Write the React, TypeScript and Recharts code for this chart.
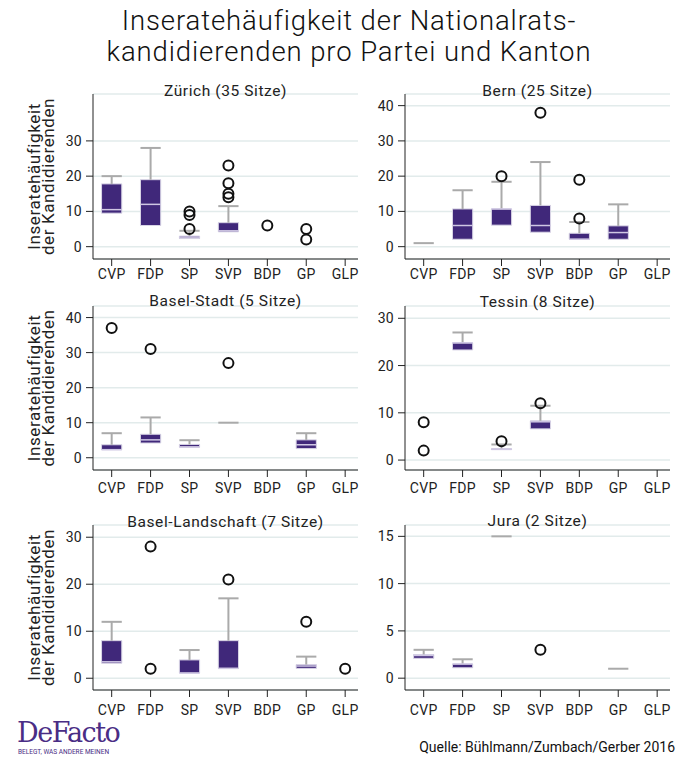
import React from 'react';
import {
  ComposedChart,
  XAxis,
  YAxis,
  CartesianGrid,
  ReferenceArea,
  ReferenceLine,
  Scatter,
} from 'recharts';

const parties = ['CVP', 'FDP', 'SP', 'SVP', 'BDP', 'GP', 'GLP'];

type Box = { party: string; min: number; q1: number; med: number; q3: number; max: number };
type Out = { party: string; v: number };

// Zürich
const zurichBoxes: Box[] = [
  { party: 'CVP', min: 9.5, q1: 9.5, med: 10.5, q3: 17.8, max: 20 },
  { party: 'FDP', min: 6, q1: 6, med: 12, q3: 19, max: 28 },
  { party: 'SP', min: 2.3, q1: 2.3, med: 2.7, q3: 3, max: 4.5 },
  { party: 'SVP', min: 4.2, q1: 4.2, med: 4.5, q3: 6.8, max: 11.5 },
];
const zurichOutliers: Out[] = [
  { party: 'SP', v: 10 }, { party: 'SP', v: 9 }, { party: 'SP', v: 5 },
  { party: 'SVP', v: 23 }, { party: 'SVP', v: 18 }, { party: 'SVP', v: 15 }, { party: 'SVP', v: 14 },
  { party: 'BDP', v: 6 },
  { party: 'GP', v: 5 }, { party: 'GP', v: 2 },
];

// Bern
const bernBoxes: Box[] = [
  { party: 'CVP', min: 1, q1: 1, med: 1, q3: 1, max: 1 },
  { party: 'FDP', min: 2.1, q1: 2.1, med: 6, q3: 10.7, max: 16 },
  { party: 'SP', min: 6.1, q1: 6.1, med: 10.7, q3: 10.7, max: 18.4 },
  { party: 'SVP', min: 4.1, q1: 4.1, med: 6, q3: 11.7, max: 24 },
  { party: 'BDP', min: 2.1, q1: 2.1, med: 2.1, q3: 3.8, max: 7 },
  { party: 'GP', min: 2.1, q1: 2.1, med: 4, q3: 5.9, max: 12 },
];
const bernOutliers: Out[] = [
  { party: 'SP', v: 20 },
  { party: 'SVP', v: 38 },
  { party: 'BDP', v: 19 }, { party: 'BDP', v: 8 },
];

// Basel-Stadt
const baselStadtBoxes: Box[] = [
  { party: 'CVP', min: 2.3, q1: 2.3, med: 2.3, q3: 3.7, max: 7 },
  { party: 'FDP', min: 4.2, q1: 4.2, med: 5.1, q3: 6.7, max: 11.5 },
  { party: 'SP', min: 3, q1: 3, med: 3.1, q3: 3.8, max: 5 },
  { party: 'SVP', min: 10, q1: 10, med: 10, q3: 10, max: 10 },
  { party: 'GP', min: 2.6, q1: 2.6, med: 3.7, q3: 5.1, max: 7 },
];
const baselStadtOutliers: Out[] = [
  { party: 'CVP', v: 37 },
  { party: 'FDP', v: 31 },
  { party: 'SVP', v: 27 },
];

// Tessin
const tessinBoxes: Box[] = [
  { party: 'FDP', min: 23.3, q1: 23.3, med: 24.8, q3: 24.8, max: 27 },
  { party: 'SP', min: 2.2, q1: 2.2, med: 2.3, q3: 2.4, max: 3.3 },
  { party: 'SVP', min: 6.6, q1: 6.6, med: 8.1, q3: 8.3, max: 11.5 },
];
const tessinOutliers: Out[] = [
  { party: 'CVP', v: 8 }, { party: 'CVP', v: 2 },
  { party: 'SP', v: 4 },
  { party: 'SVP', v: 12 },
];

// Basel-Landschaft
const baselLandBoxes: Box[] = [
  { party: 'CVP', min: 3.2, q1: 3.2, med: 3.5, q3: 8, max: 12 },
  { party: 'SP', min: 1.1, q1: 1.1, med: 1.1, q3: 3.9, max: 6 },
  { party: 'SVP', min: 2.1, q1: 2.1, med: 2.1, q3: 8, max: 17 },
  { party: 'GP', min: 2.1, q1: 2.1, med: 2.6, q3: 2.9, max: 4.6 },
];
const baselLandOutliers: Out[] = [
  { party: 'FDP', v: 28 }, { party: 'FDP', v: 2 },
  { party: 'SVP', v: 21 },
  { party: 'GP', v: 12 },
  { party: 'GLP', v: 2 },
];

// Jura
const juraBoxes: Box[] = [
  { party: 'CVP', min: 2.1, q1: 2.1, med: 2.4, q3: 2.5, max: 3 },
  { party: 'FDP', min: 1.1, q1: 1.1, med: 1.5, q3: 1.5, max: 2 },
  { party: 'SP', min: 15, q1: 15, med: 15, q3: 15, max: 15 },
  { party: 'GP', min: 1, q1: 1, med: 1, q3: 1, max: 1 },
];
const juraOutliers: Out[] = [{ party: 'SVP', v: 3 }];

const ticks40 = [0, 10, 20, 30, 40];
const ticks30 = [0, 10, 20, 30];
const ticks15 = [0, 5, 10, 15];

const FONT = 'Roboto, "Liberation Sans", sans-serif';
const PURPLE = '#40287a';
const WHISKER = '#aaaaaa';
const HALF = 0.26;

type PanelProps = {
  title: string;
  boxes: Box[];
  outliers: Out[];
  domain: [number, number];
  ticks: number[];
  left: number;
  top: number;
  width: number;
  height: number;
  margin: { top: number; right: number; bottom: number; left: number };
  xTickMargin: number;
  titleY: number;
  yLabel?: boolean;
};

const OutlierShape = (p: any) => (
  <circle cx={p.cx} cy={p.cy} r={5} fill="none" stroke="#111" strokeWidth={2} />
);

function Panel(props: PanelProps) {
  const { title, boxes, outliers, domain, ticks, left, top, width, height, margin, xTickMargin, titleY, yLabel } = props;
  const yAxisW = 40;
  const plotLeft = margin.left + yAxisW;
  const plotW = width - margin.right - plotLeft;
  const plotH = height - margin.top - margin.bottom - 30;
  const scatterData = outliers.map((o) => ({ x: parties.indexOf(o.party), y: o.v }));
  return (
    <div style={{ position: 'absolute', left, top, width, height }}>
      <ComposedChart width={width} height={height} margin={margin}>
        <CartesianGrid vertical={false} stroke="#e2ebeb" strokeWidth={1.5} />
        <XAxis
          type="number"
          dataKey="x"
          domain={[-0.48, 6.33]}
          ticks={[0, 1, 2, 3, 4, 5, 6]}
          interval={0}
          allowDataOverflow
          tickFormatter={(i: number) => parties[i]}
          tickSize={7}
          tickMargin={xTickMargin}
          height={30}
          stroke="#222"
          tick={{ fill: '#222', fontSize: 14, fontFamily: FONT, letterSpacing: 0.3 }}
        />
        <YAxis
          type="number"
          domain={domain}
          ticks={ticks}
          interval={0}
          allowDataOverflow
          width={yAxisW}
          tickSize={7}
          tickMargin={4}
          stroke="#222"
          tick={{ fill: '#222', fontSize: 14, fontFamily: FONT, letterSpacing: 0.3 }}
        />
        {boxes.map((b) => {
          const x = parties.indexOf(b.party);
          return (
            <ReferenceLine
              key={'w' + b.party}
              segment={[{ x, y: b.q3 }, { x, y: b.max }]}
              stroke={WHISKER}
              strokeWidth={2}
              ifOverflow="visible"
            />
          );
        })}
        {boxes.map((b) => {
          const x = parties.indexOf(b.party);
          return (
            <ReferenceLine
              key={'c' + b.party}
              segment={[{ x: x - HALF, y: b.max }, { x: x + HALF, y: b.max }]}
              stroke={WHISKER}
              strokeWidth={2}
              ifOverflow="visible"
            />
          );
        })}
        {boxes
          .filter((b) => b.q3 - b.q1 > 0.01)
          .map((b) => {
            const x = parties.indexOf(b.party);
            return (
              <ReferenceArea
                key={'b' + b.party}
                x1={x - HALF}
                x2={x + HALF}
                y1={b.q1}
                y2={b.q3}
                fill={PURPLE}
                fillOpacity={1}
                stroke="#d9d5e6"
                strokeWidth={1}
                ifOverflow="visible"
              />
            );
          })}
        {boxes
          .filter((b) => b.q3 - b.q1 > 0.01)
          .map((b) => {
            const x = parties.indexOf(b.party);
            return (
              <ReferenceLine
                key={'m' + b.party}
                segment={[{ x: x - HALF, y: b.med }, { x: x + HALF, y: b.med }]}
                stroke="#cfc7e3"
                strokeWidth={1.5}
                ifOverflow="visible"
              />
            );
          })}
        <Scatter data={scatterData} dataKey="y" shape={OutlierShape} isAnimationActive={false} />
      </ComposedChart>
      <div
        style={{
          position: 'absolute',
          left: plotLeft,
          width: plotW,
          top: titleY - 9,
          textAlign: 'center',
          fontFamily: FONT,
          fontSize: 15.5,
          letterSpacing: 0.6,
          lineHeight: '18px',
          color: '#222',
        }}
      >
        {title}
      </div>
      {yLabel && (
        <svg
          width={60}
          height={height}
          style={{ position: 'absolute', left: 0, top: 0, pointerEvents: 'none' }}
        >
          <g transform={`translate(0, ${margin.top + plotH / 2}) rotate(-90)`}>
            <text x={0} y={40} textAnchor="middle" fontFamily={FONT} fontSize={17} letterSpacing={0.6} fill="#222">
              Inseratehäufigkeit
            </text>
            <text x={0} y={54} textAnchor="middle" fontFamily={FONT} fontSize={17} letterSpacing={0.6} fill="#222">
              der Kandidierenden
            </text>
          </g>
        </svg>
      )}
    </div>
  );
}

const leftCol = { left: 0, width: 360, mLeft: 53, mRight: 2 };
const rightCol = { left: 346, width: 346, mLeft: 19, mRight: 22 };

export default function App() {
  return (
    <div style={{ position: 'relative', width: 692, height: 770, background: '#fff', overflow: 'hidden' }}>
      <style>{'body{margin:0;}'}</style>
      <div
        style={{
          position: 'absolute',
          left: 0,
          top: 5,
          width: 698,
          textAlign: 'center',
          fontFamily: FONT,
          fontSize: 27.5,
          fontWeight: 300,
          letterSpacing: 0.9,
          lineHeight: '31px',
          color: '#111',
        }}
      >
        Inseratehäufigkeit der Nationalrats-
        <br />
        kandidierenden pro Partei und Kanton
      </div>

      <Panel
        title="Zürich (35 Sitze)"
        boxes={zurichBoxes}
        outliers={zurichOutliers}
        domain={[-3.5, 43.3]}
        ticks={ticks30}
        left={leftCol.left}
        top={70}
        width={leftCol.width}
        height={220}
        margin={{ top: 24, right: leftCol.mRight, bottom: 1, left: leftCol.mLeft }}
        xTickMargin={3}
        titleY={21}
        yLabel
      />
      <Panel
        title="Bern (25 Sitze)"
        boxes={bernBoxes}
        outliers={bernOutliers}
        domain={[-3.5, 43.3]}
        ticks={ticks40}
        left={rightCol.left}
        top={70}
        width={rightCol.width}
        height={220}
        margin={{ top: 24, right: rightCol.mRight, bottom: 1, left: rightCol.mLeft }}
        xTickMargin={3}
        titleY={21}
      />
      <Panel
        title="Basel-Stadt (5 Sitze)"
        boxes={baselStadtBoxes}
        outliers={baselStadtOutliers}
        domain={[-3.5, 43.3]}
        ticks={ticks40}
        left={leftCol.left}
        top={285}
        width={leftCol.width}
        height={220}
        margin={{ top: 21, right: leftCol.mRight, bottom: 5, left: leftCol.mLeft }}
        xTickMargin={6}
        titleY={16}
        yLabel
      />
      <Panel
        title="Tessin (8 Sitze)"
        boxes={tessinBoxes}
        outliers={tessinOutliers}
        domain={[-2.1, 32.6]}
        ticks={ticks30}
        left={rightCol.left}
        top={285}
        width={rightCol.width}
        height={220}
        margin={{ top: 21, right: rightCol.mRight, bottom: 5, left: rightCol.mLeft }}
        xTickMargin={6}
        titleY={17}
      />
      <Panel
        title="Basel-Landschaft (7 Sitze)"
        boxes={baselLandBoxes}
        outliers={baselLandOutliers}
        domain={[-2.5, 32.6]}
        ticks={ticks30}
        left={leftCol.left}
        top={500}
        width={leftCol.width}
        height={220}
        margin={{ top: 25, right: leftCol.mRight, bottom: 0, left: leftCol.mLeft }}
        xTickMargin={8}
        titleY={22}
        yLabel
      />
      <Panel
        title="Jura (2 Sitze)"
        boxes={juraBoxes}
        outliers={juraOutliers}
        domain={[-1.25, 16.2]}
        ticks={ticks15}
        left={rightCol.left}
        top={500}
        width={rightCol.width}
        height={220}
        margin={{ top: 25, right: rightCol.mRight, bottom: 0, left: rightCol.mLeft }}
        xTickMargin={8}
        titleY={21}
      />

      <div
        style={{
          position: 'absolute',
          left: 17,
          top: 721,
          fontFamily: '"DejaVu Serif", "Liberation Serif", serif',
          fontSize: 27,
          lineHeight: '24px',
          letterSpacing: -1.5,
          color: '#4a2d85',
          fontWeight: 500,
        }}
      >
        DeFacto
      </div>
      <div
        style={{
          position: 'absolute',
          left: 18,
          top: 748,
          fontFamily: FONT,
          fontSize: 6.5,
          lineHeight: '8px',
          color: '#4a2d85',
        }}
      >
        BELEGT, WAS ANDERE MEINEN
      </div>
      <div
        style={{
          position: 'absolute',
          right: 17,
          top: 738,
          fontFamily: FONT,
          fontSize: 14,
          lineHeight: '18px',
          color: '#111',
        }}
      >
        Quelle: Bühlmann/Zumbach/Gerber 2016
      </div>
    </div>
  );
}
